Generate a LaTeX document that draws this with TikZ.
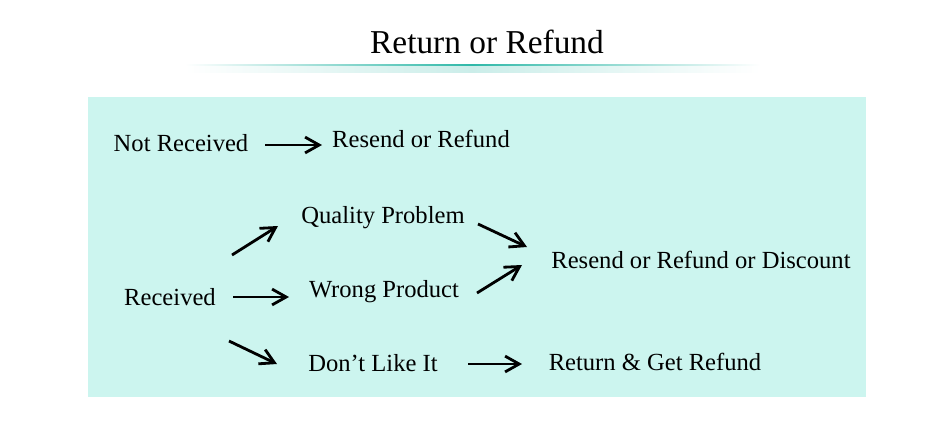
\documentclass[tikz,border=0pt]{standalone}
\usepackage{fontspec}
\setmainfont{Liberation Serif}
\usetikzlibrary{arrows.meta}
\definecolor{bg}{HTML}{CCF5EF}
\definecolor{teal1}{HTML}{2FB8A8}
\begin{document}
\begin{tikzpicture}[x=0.02cm,y=-0.02cm,
  lbl/.style={font=\fontsize{14}{16}\selectfont,inner sep=0pt},
  arr/.style={line width=1.6pt,-{Straight Barb[length=8pt,width=9pt,line width=1.6pt]}}]
\useasboundingbox (0,0) rectangle (950,420);
\fill[white] (0,0) rectangle (950,420);
% title underline
\shade[left color=white,right color=teal1!25] (185,64) rectangle (472,72);
\shade[left color=teal1!25,right color=white] (472,64) rectangle (760,72);
\shade[left color=white,right color=teal1] (185,64) rectangle (472,65.5);
\shade[left color=teal1,right color=white] (472,64) rectangle (760,65.5);
\node[font=\fontsize{19}{22}\selectfont,inner sep=0pt] (title) at (487,42) {Return or Refund};
\fill[bg] (88,97) rectangle (866,397);
\node[lbl] (nr) at (181,143) {Not Received};
\node[lbl] (rs) at (421,139) {Resend or Refund};
\node[lbl] (qp) at (383,218) {Quality Problem};
\node[lbl] (wp) at (384,292) {Wrong Product};
\node[lbl] (dl) at (373,363) {Don’t Like It};
\node[lbl] (rc) at (170,297) {Received};
\node[lbl] (rrd) at (701,260) {Resend or Refund or Discount};
\node[lbl] (rg) at (655,362) {Return \& Get Refund};
\coordinate (a1) at (265,145); \coordinate (b1) at (322,145);
\coordinate (a2) at (232,255); \coordinate (b2) at (278,226);
\coordinate (a3) at (233,297); \coordinate (b3) at (289,297);
\coordinate (a4) at (229,341); \coordinate (b4) at (277,364);
\coordinate (a5) at (478,224); \coordinate (b5) at (527,247);
\coordinate (a6) at (477,293); \coordinate (b6) at (522,265);
\coordinate (a7) at (468,364); \coordinate (b7) at (522,364);
\foreach \i in {1,...,7} \draw[arr] (a\i) -- (b\i);
\end{tikzpicture}
\end{document}
